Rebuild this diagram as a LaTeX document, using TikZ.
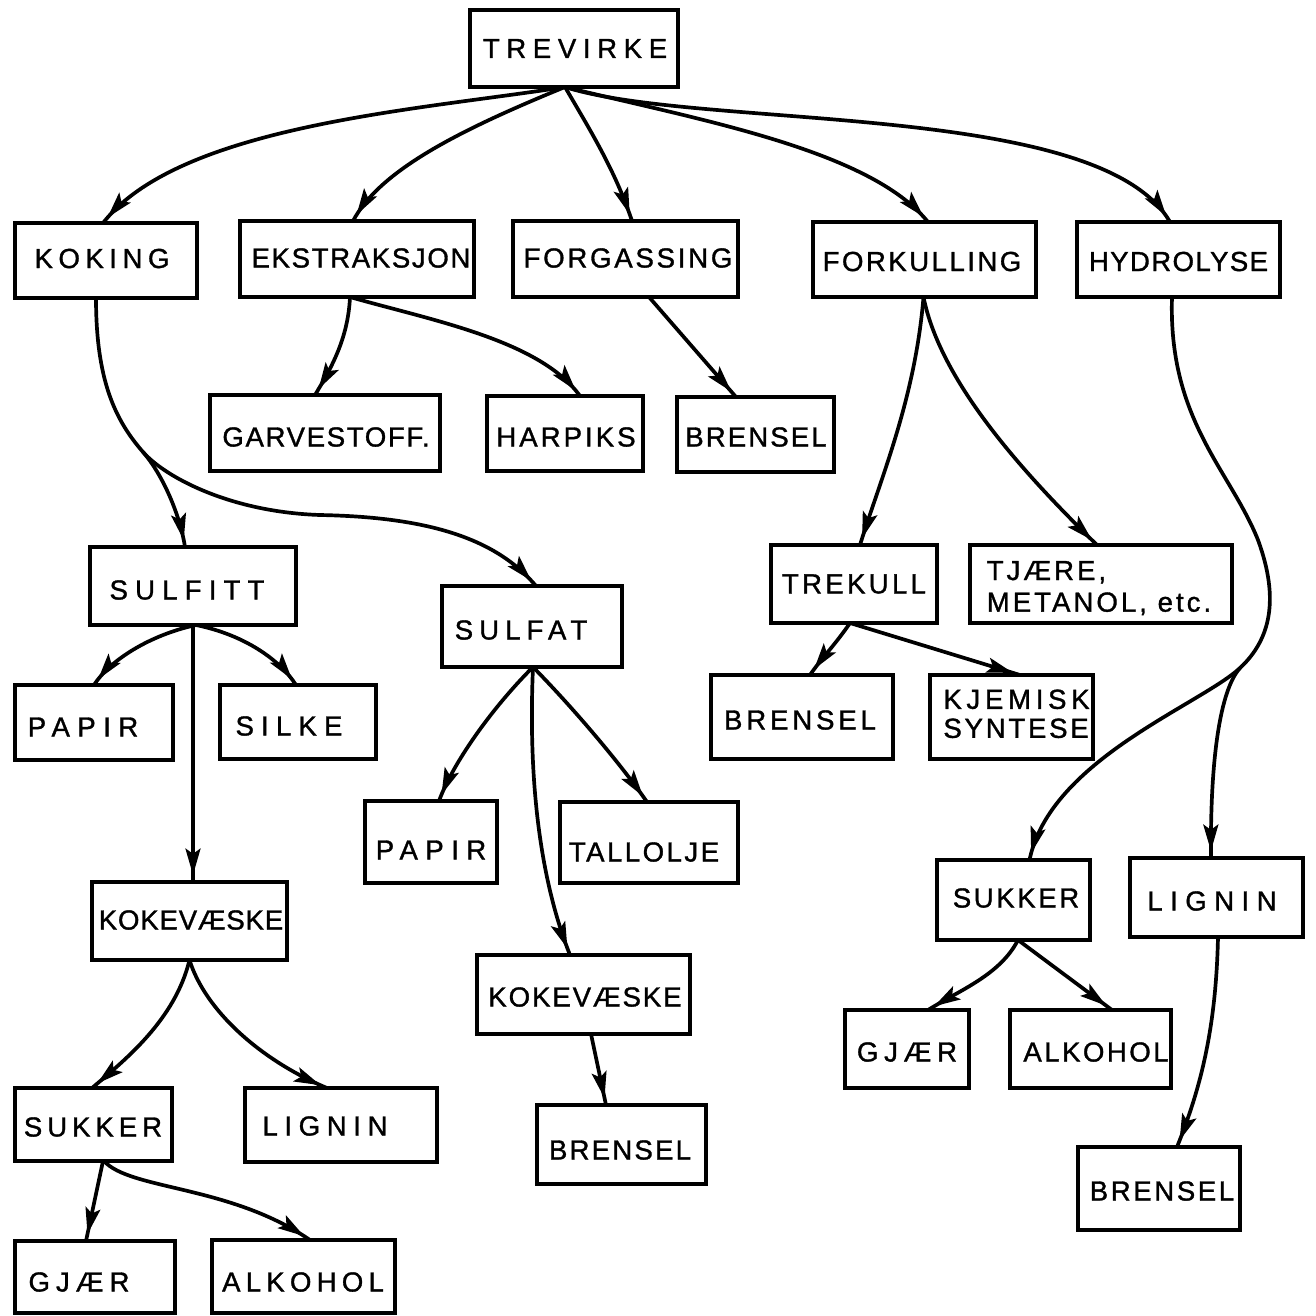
\documentclass[tikz,border=0pt]{standalone}
\usepackage{fontspec}
\setmainfont{Liberation Sans}
\usetikzlibrary{arrows.meta,decorations.markings,calc}
\newdimen\pxu \pxu=0.02cm
\newcommand\tx[4]{\makebox[0pt]{\hspace*{#1\pxu}\raisebox{#2\pxu}[\height][\depth]{\addfontfeatures{LetterSpace=#3,FakeBold=1.2}#4}}}
\begin{document}
\begin{tikzpicture}[x=0.02cm,y=-0.02cm,
  font=\fontsize{15.7}{18}\selectfont,
  bx/.style 2 args={draw, line width=2.5pt, minimum width=#1*0.02cm, minimum height=#2*0.02cm, inner sep=0pt, outer sep=0pt},
  conn/.style={line width=2.1pt, line cap=round, postaction={decorate},
    decoration={markings, mark=at position -4pt with {\arrow{Stealth[length=15pt,width=8.5pt,inset=3pt]}}}}]
\useasboundingbox (0,0) rectangle (1316,1316);
% boxes
\node[bx={208}{77}] (trevirke) at (574,48.5) {\tx{2}{0}{24}{TREVIRKE}};
\node[bx={182}{75}] (koking) at (106,260.5) {\tx{-8}{2}{20}{KOKING}};
\node[bx={234}{76}] (ekstr) at (357,259) {\tx{8}{1}{6}{EKSTRAKSJON}};
\node[bx={225}{76}] (forgass) at (625.5,259) {\tx{5}{1}{10}{FORGASSING}};
\node[bx={223}{75}] (forkull) at (924.5,259.5) {\tx{-5}{-2}{9}{FORKULLING}};
\node[bx={203}{75}] (hydro) at (1178.5,259.5) {\tx{0}{-2}{5}{HYDROLYSE}};
\node[bx={230}{76}] (garve) at (325,433) {\tx{2}{-4}{6}{GARVESTOFF.}};
\node[bx={156}{75}] (harpiks) at (565,433.5) {\tx{2}{-3.5}{11}{HARPIKS}};
\node[bx={157}{75}] (brensel1) at (755.5,434.5) {\tx{1}{-2.5}{7.6}{BRENSEL}};
\node[bx={206}{78}] (sulfitt) at (193,586) {\tx{-12}{-4}{26}{SULFITT}};
\node[bx={180}{81}] (sulfat) at (532,626.5) {\tx{-22}{-3.5}{22}{SULFAT}};
\node[bx={166}{78}] (trekull) at (854,584) {\tx{0}{0}{12}{TREKULL}};
\node[bx={262}{78}] (tjaere) at (1101,584) {\tx{-4}{-5.5}{11}{\begin{tabular}{@{}l@{}}TJÆRE,\\METANOL, etc.\end{tabular}}};
\node[bx={158}{75}] (papir1) at (94,722.5) {\tx{-22}{-4.5}{27}{PAPIR}};
\node[bx={156}{74}] (silke) at (298,722) {\tx{-18}{-4}{26}{SILKE}};
\node[bx={182}{84}] (brensel2) at (802,717) {\tx{-4}{-3}{14}{BRENSEL}};
\node[bx={163}{84}] (kjemisk) at (1011.5,717) {\tx{10}{0}{14}{\begin{tabular}{@{}l@{}}\addfontfeatures{LetterSpace=17}KJEMISK\\[-1.5pt]\addfontfeatures{LetterSpace=10}SYNTESE\end{tabular}}};
\node[bx={132}{82}] (papir2) at (431,842) {\tx{0}{-8}{27}{PAPIR}};
\node[bx={178}{81}] (tallolje) at (649,842.5) {\tx{-10}{-9.5}{9}{TALLOLJE}};
\node[bx={195}{78}] (kokev1) at (189.5,921) {\tx{3}{1}{3}{KOKEVÆSKE}};
\node[bx={213}{79}] (kokev2) at (583.5,994.5) {\tx{3}{-2.5}{7}{KOKEVÆSKE}};
\node[bx={169}{79}] (brensel3) at (621.5,1144.5) {\tx{-3}{-5.5}{8}{BRENSEL}};
\node[bx={157}{73}] (sukker1) at (93.5,1124.5) {\tx{-1}{-2.5}{18}{SUKKER}};
\node[bx={192}{74}] (lignin1) at (341,1125) {\tx{-32}{-1}{24}{LIGNIN}};
\node[bx={160}{72}] (gjaer1) at (95,1277) {\tx{-32}{-5}{22}{GJÆR}};
\node[bx={183}{73}] (alkohol1) at (303.5,1276.5) {\tx{-1}{-5.5}{19}{ALKOHOL}};
\node[bx={153}{80}] (sukker2) at (1013.5,900) {\tx{5}{2}{9.4}{SUKKER}};
\node[bx={173}{79}] (lignin2) at (1216.5,897.5) {\tx{-9}{-3.5}{27}{LIGNIN}};
\node[bx={124}{78}] (gjaer2) at (907,1049) {\tx{0}{-3}{21}{GJÆR}};
\node[bx={161}{78}] (alkohol2) at (1090.5,1049) {\tx{11}{-3}{9}{ALKOHOL}};
\node[bx={162}{83}] (brensel4) at (1159,1188.5) {\tx{6}{-2.5}{9.5}{BRENSEL}};
% connectors
\coordinate (tv) at ($(trevirke.south)+(-9,0)$);
\draw[conn] (tv) .. controls (420,110) and (180,125) .. ($(koking.north)+(-3,0)$);
\draw[conn] (tv) .. controls (460,130) and (380,170) .. ($(ekstr.north)+(-4,0)$);
\draw[conn] (tv) .. controls (590,130) and (615,170) .. ($(forgass.north)+(6.5,0)$);
\draw[conn] (tv) .. controls (700,120) and (870,150) .. ($(forkull.north)+(3.5,0)$);
\draw[conn] (tv) .. controls (700,130) and (1100,100) .. ($(hydro.north)+(-8.5,0)$);
\coordinate (kb) at (143,452);
\draw[conn] ($(koking.south)+(-10,0)$) .. controls (96,380) and (115,420) .. (kb) .. controls (163,475) and (180,515) .. ($(sulfitt.north)+(-8,0)$);
\draw[conn] (kb) .. controls (165,477) and (230,512) .. (320,515) .. controls (425,517) and (495,537) .. ($(sulfat.north)+(4,0)$);
\draw[conn] ($(ekstr.south)+(-7,0)$) .. controls (348,340) and (330,370) .. ($(garve.north)+(-10,0)$);
\draw[conn] ($(ekstr.south)+(-7,0)$) .. controls (430,320) and (540,340) .. ($(harpiks.north)+(15,0)$);
\draw[conn] ($(forgass.south)+(23.5,0)$) -- ($(brensel1.north)+(-19.5,0)$);
\draw[conn] ($(forkull.south)+(-1,0)$) .. controls (915,400) and (880,480) .. ($(trekull.north)+(6,0)$);
\draw[conn] ($(forkull.south)+(-1,0)$) .. controls (940,380) and (1020,470) .. ($(tjaere.north)+(-4,0)$);
\coordinate (hb) at (1240,668);
\draw[conn] ($(hydro.south)+(-6.5,0)$) .. controls (1168,420) and (1230,470) .. (1258,540) .. controls (1280,600) and (1270,640) .. (hb) .. controls (1200,705) and (1050,760) .. ($(sukker2.north)+(16,0)$);
\draw[conn] (hb) .. controls (1220,690) and (1210,760) .. ($(lignin2.north)+(-5.5,0)$);
\draw[conn] ($(trekull.south)+(-4,0)$) .. controls (835,645) and (820,660) .. ($(brensel2.north)+(8,0)$);
\draw[conn] ($(trekull.south)+(-4,0)$) -- ($(kjemisk.north)+(8.5,0)$);
\draw[conn] ($(sulfitt.south)+(3,0)$) .. controls (150,635) and (110,660) .. (papir1.north);
\draw[conn] ($(sulfitt.south)+(3,0)$) .. controls (245,635) and (280,660) .. ($(silke.north)+(-2,0)$);
\draw[conn] (sulfitt.south) -- ($(kokev1.north)+(3.5,0)$);
\draw[conn] ($(sulfat.south)+(1,0)$) .. controls (490,710) and (452,765) .. ($(papir2.north)+(8,0)$);
\draw[conn] ($(sulfat.south)+(1,0)$) .. controls (580,715) and (625,770) .. ($(tallolje.north)+(-2,0)$);
\draw[conn] ($(sulfat.south)+(1,0)$) .. controls (528,780) and (540,880) .. ($(kokev2.north)+(-13.5,0)$);
\draw[conn] ($(kokev2.south)+(7.5,0)$) -- ($(brensel3.north)+(-15.5,0)$);
\draw[conn] (kokev1.south) .. controls (175,1020) and (125,1060) .. ($(sukker1.north)+(-1.5,0)$);
\draw[conn] (kokev1.south) .. controls (205,1010) and (260,1060) .. ($(lignin1.north)+(-14,0)$);
\draw[conn] ($(sukker1.south)+(9.5,0)$) -- ($(gjaer1.north)+(-9,0)$);
\draw[conn] ($(sukker1.south)+(10.5,0)$) .. controls (130,1190) and (230,1185) .. ($(alkohol1.north)+(6.5,0)$);
\draw[conn] ($(sukker2.south)+(4.5,0)$) .. controls (1000,975) and (960,990) .. ($(gjaer2.north)+(21,0)$);
\draw[conn] ($(sukker2.south)+(4.5,0)$) -- ($(alkohol2.north)+(21.5,0)$);
\draw[conn] ($(lignin2.south)+(1.5,0)$) .. controls (1216,1030) and (1200,1090) .. ($(brensel4.north)+(18,0)$);
\end{tikzpicture}
\end{document}
